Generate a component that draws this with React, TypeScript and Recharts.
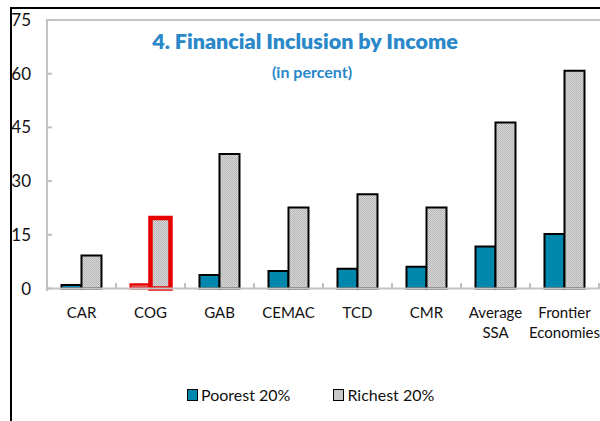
import React from "react";
import { BarChart, Bar, XAxis, YAxis, Cell } from "recharts";

const categories = ["CAR", "COG", "GAB", "CEMAC", "TCD", "CMR", "Average\nSSA", "Frontier\nEconomies"];
const poorest = [1.0, 1.2, 3.8, 4.9, 5.5, 6.1, 11.7, 15.2];
const richest = [9.2, 19.7, 37.6, 22.6, 26.3, 22.6, 46.4, 60.8];
const yTicks = [0, 15, 30, 45, 60, 75];
const seriesNames = ["Poorest 20%", "Richest 20%"];
const highlighted = "COG";

const data = categories.map((c, i) => ({ name: c, poorest: poorest[i], richest: richest[i] }));

const FONT = "Lato, 'Open Sans', sans-serif";

const YTick = (props: any) => {
  const { y, payload } = props;
  return (
    <g>
      <line x1={47} x2={52} y1={y} y2={y} stroke="#c0c0c0" strokeWidth={2} />
      <text x={31} y={y} dy={6} textAnchor="end" fontSize={17} fontFamily={FONT} fill="#111">
        {payload.value}
      </text>
    </g>
  );
};

const XTick = (props: any) => {
  const { x, payload, index } = props;
  const half = 34.5;
  const lines = String(payload.value).split("\n");
  return (
    <g>
      <line x1={x - half} x2={x - half} y1={283} y2={289} stroke="#c0c0c0" strokeWidth={2} />
      {index === categories.length - 1 && (
        <line x1={x + half} x2={x + half} y1={283} y2={289} stroke="#c0c0c0" strokeWidth={2} />
      )}
      {lines.map((l, i) => (
        <text key={i} x={x} y={318 + i * 20} textAnchor="middle" fontSize={15} fontFamily={FONT} fill="#111">
          {l}
        </text>
      ))}
    </g>
  );
};

export default function App() {
  return (
    <div style={{ position: "absolute", left: 0, top: 0, width: 600, height: 421, background: "#fff", overflow: "hidden" }}>
      <div style={{ position: "absolute", left: 10, top: 7, width: 640, height: 460, borderLeft: "2px solid #000", borderTop: "2px solid #000" }} />
      <div style={{ position: "absolute", left: 46, top: 19, width: 552, height: 270, borderLeft: "2px solid #c4c4c4", borderTop: "2px solid #c4c4c4", borderRight: "2px solid #c4c4c4" }} />
      <div style={{ position: "absolute", left: 47, width: 552, top: 28, textAlign: "center", fontFamily: FONT, fontWeight: 800, fontSize: 21.5, color: "#2a88c8" }}>
        <div style={{ position: "relative", left: -18 }}>4. Financial Inclusion by Income</div>
      </div>
      <div style={{ position: "absolute", left: 47, width: 552, top: 62, textAlign: "center", fontFamily: FONT, fontWeight: 700, fontSize: 16, color: "#2a88c8" }}>
        <div style={{ position: "relative", left: -11 }}>(in percent)</div>
      </div>
      <div style={{ position: "absolute", left: 187, top: 385, display: "flex", fontFamily: FONT, fontSize: 16, color: "#111", alignItems: "center" }}>
        <div style={{ display: "flex", alignItems: "center", marginRight: 43 }}>
          <span style={{ display: "inline-block", width: 9, height: 10, background: "#0087ae", border: "1.5px solid #000", marginRight: 3 }} />
          <span>{seriesNames[0]}</span>
        </div>
        <div style={{ display: "flex", alignItems: "center" }}>
          <span style={{ display: "inline-block", width: 9, height: 10, background: "#c8c8c8", border: "1.5px solid #000", marginRight: 3 }} />
          <span>{seriesNames[1]}</span>
        </div>
      </div>
      <div style={{ position: "absolute", left: 0, top: 0 }}>
        <BarChart
          width={600}
          height={421}
          data={data}
          margin={{ top: 20, right: 1, left: 11, bottom: 102.5 }}
          barGap={0}
          barCategoryGap="21%"
        >
          <defs>
            <pattern id="hatch" width="2" height="2" patternUnits="userSpaceOnUse">
              <rect width="2" height="2" fill="#d6d6d6" />
              <rect width="1" height="1" fill="#b4b4b4" />
              <rect x="1" y="1" width="1" height="1" fill="#bcbcbc" />
            </pattern>
          </defs>
          <XAxis
            dataKey="name"
            height={30}
            interval={0}
            tickLine={false}
            axisLine={{ stroke: "#c4c4c4", strokeWidth: 2 }}
            tick={<XTick />}
          />
          <YAxis
            width={36}
            domain={[0, 75]}
            ticks={yTicks}
            interval={0}
            tickLine={false}
            axisLine={false}
            tick={<YTick />}
          />
          <Bar dataKey="poorest" name={seriesNames[0]} fill="#0087ae" stroke="#000" strokeWidth={2} isAnimationActive={false}>
            {data.map((d, i) => (
              <Cell key={i} stroke={d.name === highlighted ? "#e60000" : "#000"} fill={d.name === highlighted ? "#e85050" : "#0087ae"} />
            ))}
          </Bar>
          <Bar dataKey="richest" name={seriesNames[1]} fill="url(#hatch)" stroke="#000" strokeWidth={2} isAnimationActive={false}>
            {data.map((d, i) => (
              <Cell key={i} stroke={d.name === highlighted ? "#e60000" : "#000"} strokeWidth={d.name === highlighted ? 4.5 : 2} />
            ))}
          </Bar>
        </BarChart>
      </div>
    </div>
  );
}
